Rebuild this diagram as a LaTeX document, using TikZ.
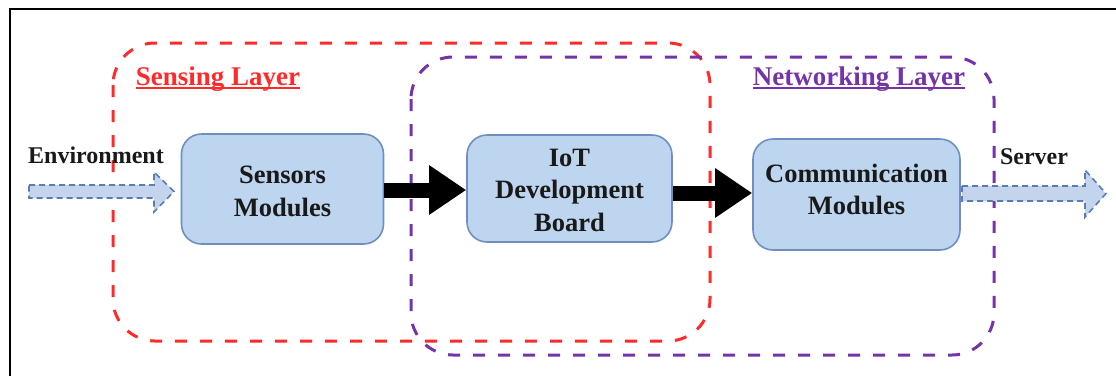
\documentclass[tikz,border=0pt]{standalone}
\usepackage{fontspec}
\setmainfont{Liberation Serif}[BoldFont={Liberation Serif Bold}]
\newfontfamily\timesbf{Liberation Serif Bold}
\usetikzlibrary{arrows.meta}
\definecolor{boxfill}{HTML}{BDD5EE}
\definecolor{boxline}{HTML}{6F8FC0}
\definecolor{sensred}{HTML}{FF2B2B}
\definecolor{netpurple}{HTML}{7434A8}
\definecolor{arrfill}{HTML}{C3D4EC}
\definecolor{arrline}{HTML}{5A7CB4}
\tikzset{
  modbox/.style={draw=boxline, fill=boxfill, line width=1.6pt, rounded corners=20pt,
    align=center, inner sep=0pt, font=\timesbf\fontsize{26.5}{32.5}\selectfont, text=black!90},
  modtext/.style={align=center, inner sep=0pt, font=\timesbf\fontsize{26.5}{32.5}\selectfont, text=black!90},
  flowarrow/.style={line width=15pt, -{Triangle[length=37pt,width=47pt]}, black},
  layerbox/.style={line width=3pt, dash pattern=on 12pt off 13pt, rounded corners=42pt},
  blockarrow/.style={fill=arrfill, draw=arrline, line width=1.6pt, dash pattern=on 6pt off 4pt},
  lbl/.style={font=\timesbf\fontsize{24}{28}\selectfont, inner sep=0pt, text=black!90},
  layerlbl/.style={font=\timesbf\fontsize{27}{30}\selectfont, inner sep=0pt}
}
\begin{document}
\begin{tikzpicture}[x=1pt,y=-1pt]
\useasboundingbox (0,0) rectangle (1116,376);
% frame
\coordinate (fbl) at (10,376);
\coordinate (ftl) at (10,9);
\coordinate (ftr) at (1116,9);
\draw[line width=2.5pt] (fbl) -- (ftl) -- (ftr);
% layers
\draw[layerbox, sensred] (113,43) rectangle (710,341);
\draw[layerbox, netpurple] (411,57) rectangle (994,355);
\node[layerlbl, text=sensred, anchor=base] (sl) at (218,85) {Sensing Layer};
\node[layerlbl, text=netpurple, anchor=base] (nl) at (859,85) {Networking Layer};
\draw[sensred, line width=1.8pt] ([yshift=-3pt]sl.base west) -- ([yshift=-3pt]sl.base east);
\draw[netpurple, line width=1.8pt] ([yshift=-3pt]nl.base west) -- ([yshift=-3pt]nl.base east);
% modules
\node[modbox, minimum width=202pt, minimum height=110pt] (sens) at (282.5,189) {};
\node[modtext] (senst) at (282.5,191.5) {Sensors\\Modules};
\node[modbox, minimum width=205pt, minimum height=107pt] (iot) at (569.5,188.5) {};
\node[modtext] (iott) at (569.5,190) {IoT\\Development\\Board};
\node[modbox, minimum width=207pt, minimum height=111pt] (comm) at (856.5,194.5) {};
\node[modtext] (commt) at (856.5,189.5) {Communication\\Modules};
% flow arrows
\draw[flowarrow] (sens.east |- 0,190) -- (iot.west |- 0,190);
\draw[flowarrow] (iot.east |- 0,193) -- (comm.west |- 0,193);
% environment / server arrows
\draw[blockarrow] (29,185) -- (154,185) -- (154,172) -- (174,191.5) -- (154,212) -- (154,198) -- (29,198) -- cycle;
\draw[blockarrow] (962,186) -- (1085,186) -- (1085,170) -- (1106,193.5) -- (1085,217) -- (1085,201) -- (962,201) -- cycle;
\node[lbl] (env) at (96,155) {Environment};
\node[lbl] (srv) at (1034,157) {Server};
\end{tikzpicture}
\end{document}
